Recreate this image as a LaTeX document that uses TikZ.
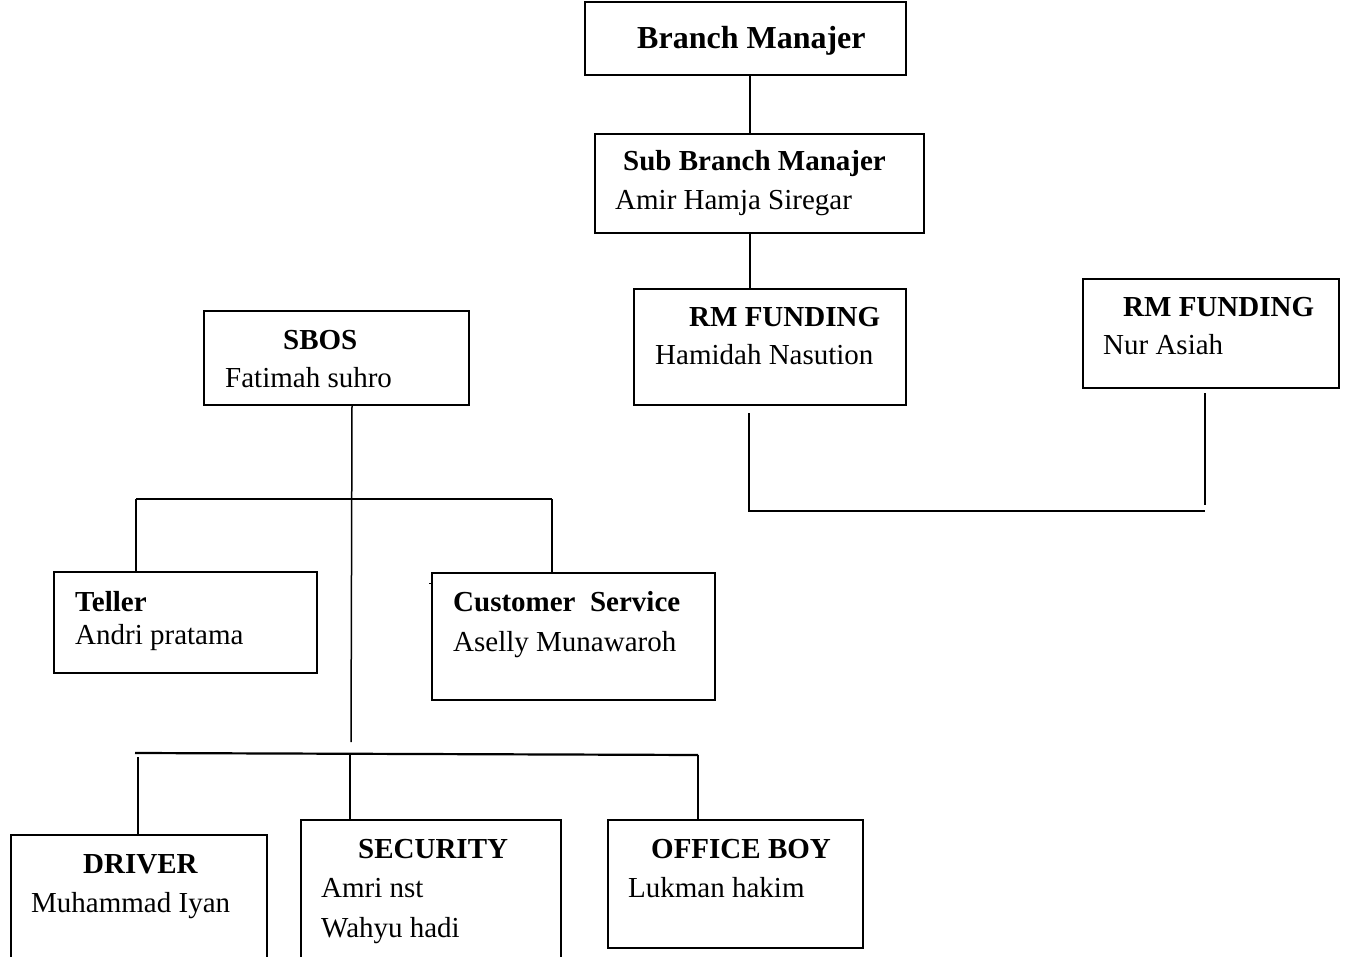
\documentclass[tikz,border=0pt]{standalone}
\usepackage{fontspec}
\setmainfont{Liberation Serif}
\begin{document}
\begin{tikzpicture}[x=1pt,y=-1pt,
  box/.style={draw,line width=1.6pt,inner sep=0pt},
  ln/.style={line width=1.5pt},
  t/.style={inner sep=0pt,anchor=base west,font=\fontsize{29}{34}\selectfont},
  tb/.style={inner sep=0pt,anchor=base west,font=\fontsize{29}{34}\selectfont\bfseries}]
\clip (0,0) rectangle (1349,957);
\fill[white] (0,0) rectangle (1349,957);
% boxes
\node[box,minimum width=321pt,minimum height=73pt] (bm) at (745.5,38.5) {};
\node[box,minimum width=329pt,minimum height=99pt] (sbm) at (759.5,183.5) {};
\node[box,minimum width=272pt,minimum height=116pt] (rm1) at (770,347) {};
\node[box,minimum width=256pt,minimum height=109pt] (rm2) at (1211,333.5) {};
\node[box,minimum width=265pt,minimum height=94pt] (sbos) at (336.5,358) {};
\node[box,minimum width=263pt,minimum height=101pt] (teller) at (185.5,622.5) {};
\node[box,minimum width=283pt,minimum height=127pt] (cs) at (573.5,636.5) {};
\node[box,minimum width=256pt,minimum height=140pt] (driver) at (139,905) {};
\node[box,minimum width=260pt,minimum height=155pt] (security) at (431,897.5) {};
\node[box,minimum width=255pt,minimum height=128pt] (ob) at (735.5,884) {};
% texts
\node[inner sep=0pt,anchor=base west,font=\fontsize{32}{38}\selectfont\bfseries] (tbm) at (637,49) {Branch Manajer};
\node[tb] (tsbm) at (623,171) {Sub Branch Manajer};
\node[t] (nsbm) at (615,210) {Amir Hamja Siregar};
\node[tb] (trm1) at (689,327) {RM FUNDING};
\node[t] (nrm1) at (655,365) {Hamidah Nasution};
\node[tb] (trm2) at (1123,317) {RM FUNDING};
\node[t] (nrm2) at (1103,355) {Nur Asiah};
\node[tb] (tsbos) at (283,350) {SBOS};
\node[t] (nsbos) at (225,388) {Fatimah suhro};
\node[tb] (tteller) at (75,611) {Teller};
\node[t] (nteller) at (75,644) {Andri pratama};
\node[tb] (tcs) at (453,611) {Customer\ \ Service};
\node[t] (ncs) at (453,651) {Aselly Munawaroh};
\node[tb] (tdriver) at (83,873) {DRIVER};
\node[t] (ndriver) at (31,912) {Muhammad Iyan};
\node[tb] (tsec) at (358,858) {SECURITY};
\node[t] (nsec1) at (321,897) {Amri nst};
\node[t] (nsec2) at (321,937) {Wahyu hadi};
\node[tb] (tob) at (651,858) {OFFICE BOY};
\node[t] (nob) at (628,897) {Lukman hakim};
% junction coordinates
\coordinate (x1) at (750,0);
\coordinate (rA) at (749,413);
\coordinate (rB) at (749,511);
\coordinate (rC) at (1205,511);
\coordinate (rD) at (1205,393);
\coordinate (rE) at (1205,505);
\coordinate (sA) at (352,0);
\coordinate (sB) at (351,742);
\coordinate (hL) at (136,499);
\coordinate (hR) at (552,499);
\coordinate (bL) at (135,753);
\coordinate (bR) at (698,755);
\coordinate (dA) at (138,757);
\coordinate (mA) at (350,755);
\coordinate (tick1) at (429,583);
\coordinate (tick2) at (433,583);
% connectors
\draw[ln] (bm.south -| x1) -- (sbm.north -| x1);
\draw[ln] (sbm.south -| x1) -- (rm1.north -| x1);
\draw[ln] (rA) -- (rB) -- (rC);
\draw[ln] (rD) -- (rE);
\draw[ln] (sbos.south -| sA) -- (sB);
\draw[ln] (hL) -- (hR);
\draw[ln] (hL) -- (teller.north -| hL);
\draw[ln] (hR) -- (cs.north -| hR);
\draw[line width=2.2pt] (bL) -- (bR);
\draw[ln] (dA) -- (driver.north -| dA);
\draw[ln] (mA) -- (security.north -| mA);
\draw[ln] (bR) -- (ob.north -| bR);
\draw[line width=1pt] (tick1) -- (tick2);
\end{tikzpicture}
\end{document}
